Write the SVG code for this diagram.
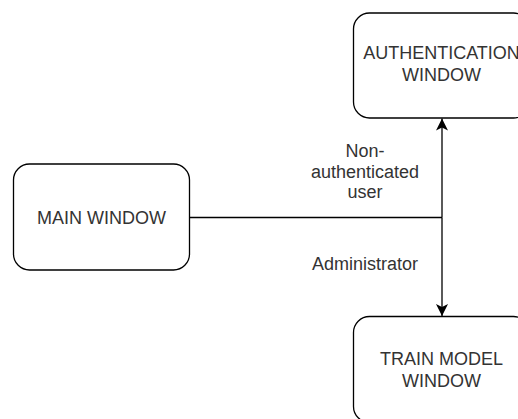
<svg xmlns="http://www.w3.org/2000/svg" width="518" height="419" viewBox="0 0 518 419">
  <style>
    .box { fill: #ffffff; stroke: #000000; stroke-width: 1.3; }
    .lbl { font-family: "Liberation Sans", Arial, Helvetica, sans-serif; font-size: 18px; fill: #333333; text-anchor: middle; }
    .edge { fill: none; stroke: #000000; stroke-width: 1.3; }
  </style>
  <defs>
    <marker id="arrow" viewBox="0 0 12 14" refX="12" refY="7" markerWidth="12" markerHeight="14" markerUnits="userSpaceOnUse" orient="auto">
      <path d="M0,1 L12,7 L0,13 L3,7 Z" fill="#000000"/>
    </marker>
  </defs>
  <rect width="518" height="419" fill="#ffffff"/>

  <g id="main-window">
    <rect class="box" x="13.5" y="164" width="176" height="106" rx="16" ry="16"/>
    <text class="lbl" x="101.5" y="223.5">MAIN WINDOW</text>
  </g>

  <g id="authentication-window">
    <rect class="box" x="353.5" y="13" width="176" height="105" rx="16" ry="16"/>
    <text class="lbl" x="441.5" y="59">AUTHENTICATION</text>
    <text class="lbl" x="441.5" y="81">WINDOW</text>
  </g>

  <g id="train-model-window">
    <rect class="box" x="353.5" y="316.5" width="176" height="106" rx="16" ry="16"/>
    <text class="lbl" x="441.5" y="365">TRAIN MODEL</text>
    <text class="lbl" x="441.5" y="387">WINDOW</text>
  </g>

  <g id="connectors">
    <path class="edge" d="M189.5,217.5 H442"/>
    <path class="edge" d="M442,217.5 V118.5" marker-end="url(#arrow)"/>
    <path class="edge" d="M442,217.5 V316" marker-end="url(#arrow)"/>
    <text class="lbl" x="365" y="157">Non-</text>
    <text class="lbl" x="365" y="177.5">authenticated</text>
    <text class="lbl" x="365" y="198">user</text>
    <text class="lbl" x="365" y="270">Administrator</text>
  </g>
</svg>
